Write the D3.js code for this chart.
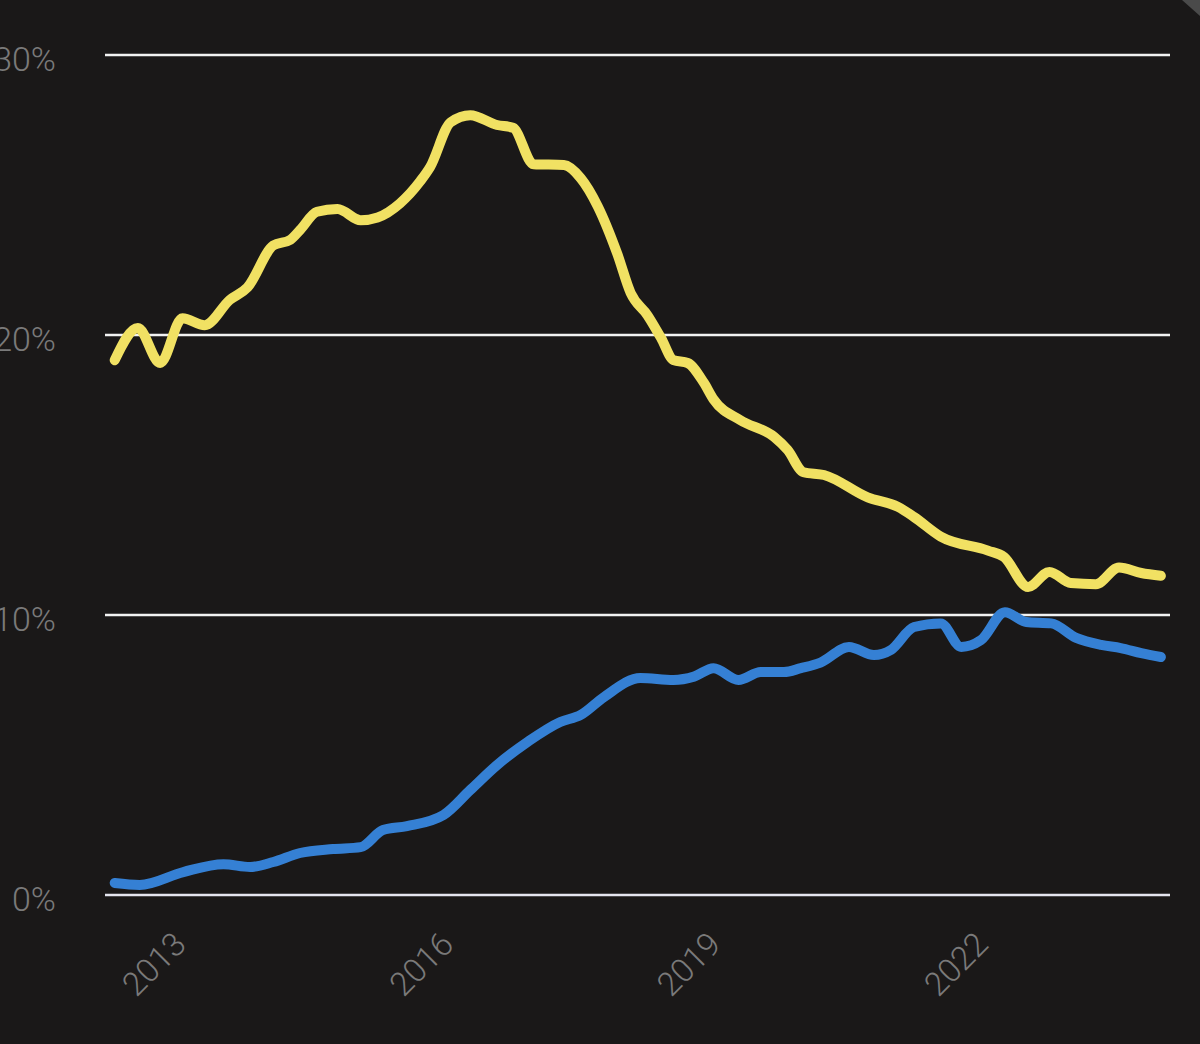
<!DOCTYPE html>
<html>
<head>
<meta charset="utf-8">
<script src="https://cdn.jsdelivr.net/npm/d3@7"></script>
<style>
  html, body { margin: 0; padding: 0; background: #1a1818; }
  svg { display: block; }
</style>
</head>
<body>
<svg id="chart" width="1200" height="1044"></svg>
<script>
// ---- data (decimal years, percent) ----
const yellowYears = [2012.20,2012.46,2012.71,2012.96,2013.21,2013.49,2013.69,2013.98,2014.17,2014.28,2014.47,2014.70,2014.96,2015.15,2015.40,2015.63,2015.74,2015.97,2016.19,2016.49,2016.67,2016.90,2017.24,2017.43,2017.62,2017.84,2017.99,2018.18,2018.33,2018.47,2018.63,2018.81,2018.92,2019.22,2019.60,2019.75,2019.93,2020.16,2020.65,2020.99,2021.17,2021.47,2022.00,2022.18,2022.45,2022.69,2022.93,2023.21,2023.47,2023.72,2023.94];
const yellowValues = [19.1,20.25,19.0,20.6,20.35,21.25,21.7,23.2,23.4,23.75,24.4,24.5,24.1,24.2,24.7,25.5,26.0,27.6,27.85,27.5,27.4,26.1,26.07,25.6,24.6,22.9,21.5,20.7,19.9,19.1,19.0,18.3,17.7,16.96,16.36,15.9,15.1,15.0,14.2,13.86,13.5,12.8,12.3,12.07,11.0,11.54,11.14,11.1,11.7,11.5,11.4];

const blueYears = [2012.20,2012.48,2012.97,2013.42,2013.72,2013.98,2014.28,2014.65,2014.96,2015.21,2015.48,2015.89,2016.19,2016.49,2016.83,2017.20,2017.43,2017.69,2018.10,2018.47,2018.70,2018.92,2019.20,2019.45,2019.71,2019.90,2020.12,2020.44,2020.72,2020.91,2021.17,2021.47,2021.70,2021.92,2022.19,2022.43,2022.71,2022.99,2023.27,2023.49,2023.72,2023.94];
const blueValues = [0.43,0.36,0.82,1.1,1.0,1.18,1.5,1.64,1.71,2.32,2.46,2.86,3.75,4.64,5.46,6.18,6.43,7.07,7.75,7.68,7.8,8.1,7.68,7.96,7.96,8.1,8.3,8.86,8.57,8.75,9.57,9.7,8.86,9.1,10.1,9.75,9.7,9.18,8.93,8.82,8.64,8.5];

const yTicks = [0, 10, 20, 30];
const yTickLabels = ["0%", "10%", "20%", "30%"];
const xTicks = [2013, 2016, 2019, 2022];
const xTickLabels = ["2013", "2016", "2019", "2022"];

// ---- layout ----
const svg = d3.select("#chart");
const plotLeft = 105, plotRight = 1170;
const x = d3.scaleLinear().domain([2013, 2022]).range([186, 988]);
const y = d3.scaleLinear().domain([0, 30]).range([895, 55]);

// gridlines
svg.append("g").selectAll("line").data(yTicks).join("line")
  .attr("x1", plotLeft).attr("x2", plotRight)
  .attr("y1", d => y(d)).attr("y2", d => y(d))
  .attr("stroke", d => d === 0 ? "#e4e4ee" : "#f2f2f2")
  .attr("stroke-width", 2.5);

// y labels
svg.append("g").selectAll("text").data(yTicks).join("text")
  .attr("x", 56).attr("y", d => y(d) + 16)
  .attr("text-anchor", "end")
  .attr("fill", "#7a7a7a")
  .attr("font-family", "Roboto, 'Open Sans', sans-serif")
  .attr("font-weight", 300)
  .attr("font-size", 34)
  .text((d, i) => yTickLabels[i]);

// x labels (rotated, centred below each tick)
svg.append("g").selectAll("text").data(xTicks).join("text")
  .attr("transform", d => `translate(${x(d) - 32},${964}) rotate(-45)`)
  .attr("text-anchor", "middle")
  .attr("dy", "0.35em")
  .attr("fill", "#7a7a7a")
  .attr("font-family", "Roboto, 'Open Sans', sans-serif")
  .attr("font-weight", 300)
  .attr("font-size", 33)
  .text((d, i) => xTickLabels[i]);

// lines
const line = d3.line().curve(d3.curveMonotoneX)
  .x(d => x(d[0])).y(d => y(d[1]));

svg.append("path")
  .datum(yellowYears.map((t, i) => [t, yellowValues[i]]))
  .attr("d", line)
  .attr("fill", "none")
  .attr("stroke", "#f1e163")
  .attr("stroke-width", 10)
  .attr("stroke-linecap", "round")
  .attr("stroke-linejoin", "round");

svg.append("path")
  .datum(blueYears.map((t, i) => [t, blueValues[i]]))
  .attr("d", line)
  .attr("fill", "none")
  .attr("stroke", "#3580d4")
  .attr("stroke-width", 10)
  .attr("stroke-linecap", "round")
  .attr("stroke-linejoin", "round");

// corner decoration (top-right)
svg.append("path")
  .attr("d", "M1182,0 L1200,0 L1200,16 Z")
  .attr("fill", "#4a4a4a");
</script>
</body>
</html>
